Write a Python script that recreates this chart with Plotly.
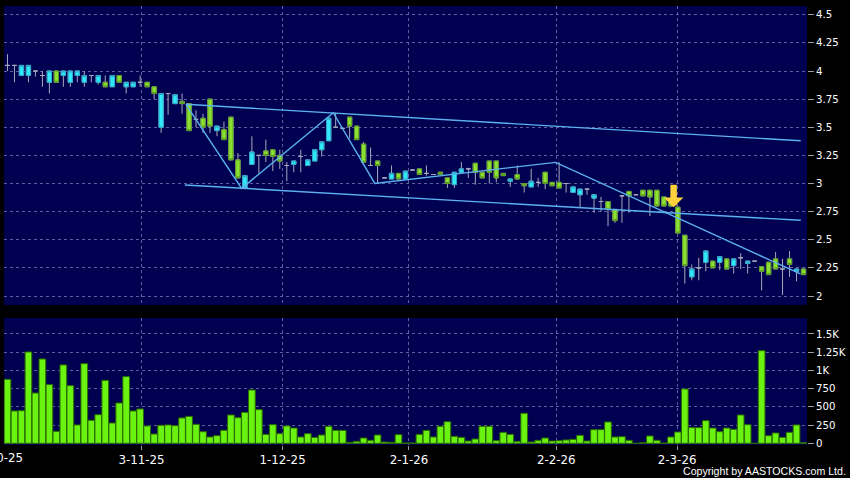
import plotly.graph_objects as go

# ---------------- data ----------------
day_idx = list(range(115))

tick_pos = [19.2, 39.4, 57.5, 78.6, 95.9]
tick_labels = ["3-11-25", "1-12-25", "2-1-26", "2-2-26", "2-3-26"]
first_label = "2-10-25"
first_label_pos = -1.07

open_ = [4.05, 4.05, 3.96, 3.96, 4.00, 3.96, 3.90, 4.00, 3.96, 3.90,
         3.96, 3.90, 3.96, 3.90, 3.90, 3.86, 3.96, 3.86, 3.86, 3.90,
         3.90, 3.86, 3.50, 3.80, 3.71, 3.73, 3.71, 3.57, 3.58, 3.75,
         3.47, 3.48, 3.59, 3.21, 2.96, 3.17, 3.25, 3.29, 3.30, 3.25,
         3.16, 3.17, 3.24, 3.16, 3.20, 3.30, 3.38, 3.50, 3.49, 3.59,
         3.51, 3.35, 3.16, 3.20, 3.05, 3.04, 3.09, 3.04, 3.12, 3.13,
         3.09, 3.08, 3.10, 3.05, 2.99, 3.10, 3.13, 3.18, 3.10, 3.20,
         3.20, 3.09, 3.02, 3.08, 3.00, 2.97, 3.01, 3.10, 3.01, 3.01,
         3.00, 2.92, 2.90, 2.95, 2.87, 2.84, 2.84, 2.77, 2.89, 2.93,
         2.90, 2.94, 2.94, 2.94, 2.88, 2.84, 2.79, 2.54, 2.17, 2.25,
         2.30, 2.31, 2.30, 2.33, 2.27, 2.34, 2.29, 2.31, 2.26, 2.30,
         2.33, 2.24, 2.33, 2.22, 2.24]
high = [4.15, 4.05, 4.05, 4.05, 4.00, 4.00, 4.00, 4.00, 4.00, 4.00,
        4.00, 4.00, 3.96, 3.96, 3.96, 3.96, 3.96, 3.90, 3.90, 3.96,
        3.90, 3.86, 3.80, 3.80, 3.79, 3.80, 3.71, 3.65, 3.62, 3.75,
        3.51, 3.55, 3.59, 3.27, 3.07, 3.42, 3.25, 3.39, 3.30, 3.30,
        3.19, 3.20, 3.30, 3.21, 3.30, 3.37, 3.60, 3.63, 3.50, 3.59,
        3.51, 3.37, 3.32, 3.20, 3.05, 3.16, 3.09, 3.11, 3.12, 3.13,
        3.16, 3.08, 3.10, 3.05, 3.10, 3.19, 3.14, 3.18, 3.10, 3.20,
        3.20, 3.09, 3.04, 3.16, 3.00, 3.13, 3.05, 3.10, 3.01, 3.19,
        3.00, 2.97, 2.95, 2.96, 2.90, 2.88, 2.84, 2.77, 2.90, 2.93,
        2.90, 2.94, 2.94, 2.94, 2.88, 2.86, 2.79, 2.54, 2.28, 2.34,
        2.40, 2.31, 2.35, 2.33, 2.33, 2.38, 2.31, 2.31, 2.26, 2.30,
        2.39, 2.33, 2.40, 2.24, 2.24]
low = [4.00, 3.90, 3.96, 3.90, 3.95, 3.86, 3.80, 3.90, 3.86, 3.86,
       3.90, 3.86, 3.90, 3.88, 3.86, 3.86, 3.90, 3.80, 3.86, 3.86,
       3.86, 3.75, 3.45, 3.61, 3.71, 3.62, 3.47, 3.50, 3.45, 3.45,
       3.42, 3.39, 3.21, 3.05, 2.95, 3.17, 3.09, 3.19, 3.11, 3.13,
       3.02, 3.10, 3.10, 3.16, 3.20, 3.24, 3.38, 3.50, 3.48, 3.40,
       3.39, 3.19, 3.16, 3.00, 3.05, 3.04, 3.04, 3.04, 3.12, 3.08,
       3.07, 3.08, 3.08, 2.96, 2.96, 3.10, 3.05, 2.99, 3.05, 3.00,
       3.01, 3.07, 2.97, 3.04, 2.92, 2.97, 2.97, 2.95, 2.98, 2.96,
       2.92, 2.92, 2.79, 2.90, 2.74, 2.75, 2.62, 2.65, 2.65, 2.74,
       2.90, 2.89, 2.71, 2.80, 2.80, 2.79, 2.56, 2.11, 2.14, 2.14,
       2.22, 2.25, 2.23, 2.24, 2.20, 2.24, 2.20, 2.31, 2.05, 2.19,
       2.24, 2.01, 2.17, 2.13, 2.19]
close = [4.05, 4.05, 4.05, 4.05, 4.00, 3.96, 4.00, 3.90, 4.00, 4.00,
         4.00, 3.96, 3.96, 3.96, 3.86, 3.96, 3.90, 3.90, 3.90, 3.90,
         3.86, 3.80, 3.80, 3.80, 3.79, 3.71, 3.47, 3.57, 3.50, 3.51,
         3.51, 3.39, 3.21, 3.05, 3.07, 3.28, 3.25, 3.25, 3.24, 3.20,
         3.16, 3.20, 3.24, 3.21, 3.30, 3.37, 3.58, 3.50, 3.49, 3.51,
         3.39, 3.19, 3.16, 3.16, 3.05, 3.09, 3.04, 3.11, 3.12, 3.08,
         3.09, 3.08, 3.08, 3.00, 3.10, 3.13, 3.13, 3.10, 3.05, 3.10,
         3.05, 3.07, 3.04, 3.04, 2.98, 3.02, 3.01, 3.00, 2.98, 2.96,
         3.00, 2.97, 2.95, 2.95, 2.90, 2.84, 2.77, 2.67, 2.89, 2.89,
         2.90, 2.89, 2.88, 2.80, 2.80, 2.80, 2.56, 2.27, 2.24, 2.25,
         2.40, 2.25, 2.35, 2.24, 2.33, 2.34, 2.31, 2.31, 2.22, 2.19,
         2.24, 2.24, 2.28, 2.24, 2.19]
volume = [878, 444, 448, 1253, 690, 1157, 805, 165, 1075, 791,
          252, 1093, 316, 393, 864, 279, 553, 915, 444, 471,
          238, 128, 247, 252, 242, 348, 370, 261, 160, 87,
          105, 178, 389, 352, 425, 732, 462, 123, 256, 133,
          238, 210, 87, 133, 82, 114, 233, 178, 178, 14,
          27, 73, 41, 114, 18, 14, 119, 5, 5, 123,
          178, 87, 233, 297, 96, 82, 32, 59, 233, 233,
          37, 151, 123, 27, 412, 18, 41, 73, 32, 37,
          46, 55, 110, 32, 187, 187, 293, 87, 91, 41,
          0, 9, 101, 41, 5, 87, 155, 745, 215, 215,
          311, 210, 160, 210, 192, 389, 256, 0, 1271, 105,
          142, 82, 151, 252, 9]

# drawn trend lines (index, price)
zigzag_x = [25.55, 33.53, 46.65, 52.6, 78.5, 113.55]
zigzag_y = [3.704, 2.957, 3.629, 3.001, 3.188, 2.196]
upper_x = [25.55, 113.6]
upper_y = [3.704, 3.38]
lower_x = [25.4, 113.6]
lower_y = [2.987, 2.673]

# signal arrow (index, price of tip)
signal_x = [95.4]
signal_y = [2.79]

price_ticks = [2, 2.25, 2.5, 2.75, 3, 3.25, 3.5, 3.75, 4, 4.25, 4.5]
price_tick_text = ["2", "2.25", "2.5", "2.75", "3", "3.25", "3.5", "3.75", "4", "4.25", "4.5"]
vol_ticks = [0, 250, 500, 750, 1000, 1250, 1500]
vol_tick_text = ["0", "250", "500", "750", "1K", "1.25K", "1.5K"]

# ---------------- styles ----------------
BG = "#000050"
GRID = "#5e5e98"
WICK = "#a8a8bc"
CYAN = "#30e8fa"
CYAN_EDGE = "#2aa8c8"
GREEN = "#8ce032"
GREEN_EDGE = "#5a9a20"
VOL = "#6af210"
VOL_EDGE = "#2a6a00"
TREND = "#5cb2f0"
FONT = "DejaVu Sans"

# bodies (non-doji) with high/low clipped to body so only the grey wicks show
body_x, body_o, body_c, body_h, body_l = [], [], [], [], []
for i, o, c in zip(day_idx, open_, close):
    if o != c:
        body_x.append(i)
        body_o.append(o)
        body_c.append(c)
        body_h.append(max(o, c))
        body_l.append(min(o, c))

fig = go.Figure()

fig.add_trace(go.Candlestick(
    x=day_idx, open=open_, high=high, low=low, close=close,
    increasing=dict(line=dict(color=WICK, width=1), fillcolor=WICK),
    decreasing=dict(line=dict(color=WICK, width=1), fillcolor=WICK),
    whiskerwidth=0, showlegend=False, hoverinfo="skip",
    xaxis="x", yaxis="y"))

fig.add_trace(go.Candlestick(
    x=body_x, open=body_o, high=body_h, low=body_l, close=body_c,
    increasing=dict(line=dict(color=CYAN_EDGE, width=1), fillcolor=CYAN),
    decreasing=dict(line=dict(color=GREEN_EDGE, width=1), fillcolor=GREEN),
    whiskerwidth=0, showlegend=False, hoverinfo="skip",
    xaxis="x", yaxis="y"))

for lx, ly in [(upper_x, upper_y), (lower_x, lower_y), (zigzag_x, zigzag_y)]:
    fig.add_trace(go.Scatter(x=lx, y=ly, mode="lines",
                             line=dict(color=TREND, width=1.4),
                             showlegend=False, hoverinfo="skip",
                             xaxis="x", yaxis="y"))

fig.add_trace(go.Bar(
    x=day_idx, y=volume, marker=dict(color=VOL, line=dict(color=VOL_EDGE, width=1)),
    showlegend=False, hoverinfo="skip", xaxis="x2", yaxis="y2"))

x_range = [-0.5, 114.5]
axis_common = dict(showline=False, zeroline=False, automargin=False,
                   gridcolor=GRID, griddash="dot", gridwidth=1)

fig.update_layout(
    template="none",
    width=850, height=478,
    margin=dict(l=4, r=43, t=6, b=33),
    paper_bgcolor="black", plot_bgcolor=BG,
    font=dict(family=FONT, color="white", size=11),
    bargap=0.04, boxgap=0.12,
    showlegend=False,
    xaxis=dict(domain=[0, 1], anchor="y", range=x_range,
               tickvals=tick_pos, ticktext=tick_labels, showticklabels=False,
               ticks="", showgrid=True, rangeslider=dict(visible=False),
               **axis_common),
    xaxis2=dict(domain=[0, 1], anchor="y2", range=x_range, matches="x",
                tickvals=tick_pos, ticktext=tick_labels, showticklabels=True,
                ticks="outside", ticklen=4, tickcolor="#9a9aaa",
                tickfont=dict(family=FONT, size=11.8, color="white"),
                showgrid=True, **axis_common),
    yaxis=dict(domain=[0.3189, 1], anchor="x", range=[1.92, 4.578], side="right",
               tickvals=price_ticks, ticktext=price_tick_text,
               ticks="outside", ticklen=6, tickcolor="#9a9aaa",
               tickfont=dict(family=FONT, size=10.2, color="white"),
               showgrid=True, **axis_common),
    yaxis2=dict(domain=[0, 0.2893], anchor="x2", range=[-23, 1719], side="right",
                tickvals=vol_ticks, ticktext=vol_tick_text,
                ticks="outside", ticklen=6, tickcolor="#9a9aaa",
                tickfont=dict(family=FONT, size=10.2, color="white"),
                showgrid=True, **axis_common),
)

# clipped first date label (its tick lies just left of the plotted range)
fig.add_annotation(text=first_label, xref="paper", yref="paper",
                   x=(first_label_pos - x_range[0]) / (x_range[1] - x_range[0]),
                   y=-0.0296, xanchor="center", yanchor="middle", showarrow=False,
                   font=dict(family=FONT, size=11.8, color="white"))

fig.add_annotation(text="Copyright by AASTOCKS.com Ltd.", xref="paper", yref="paper",
                   x=1.0515, y=-0.0592, xanchor="right", yanchor="middle", showarrow=False,
                   font=dict(family="Liberation Sans", size=10.6, color="white"))

for sx, sy in zip(signal_x, signal_y):
    fig.add_annotation(x=sx, y=sy, xref="x", yref="y", ax=0, ay=-24, text="",
                       showarrow=True, arrowhead=1, arrowwidth=6.5, arrowsize=0.5,
                       arrowcolor="#ffd23c", standoff=0)

fig.write_html("out.html",
               config={"displayModeBar": False},
               post_script="document.body.style.margin='0';"
                           "document.body.style.overflow='hidden';"
                           "document.body.style.background='black';")
